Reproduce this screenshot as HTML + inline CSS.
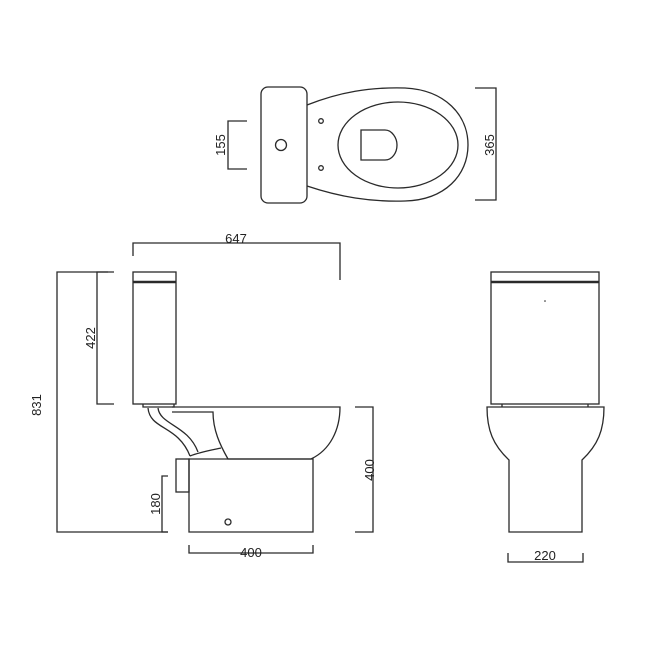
<!DOCTYPE html>
<html><head><style>body{margin:0;background:#fff}svg{display:block}text{font-family:"Liberation Sans",sans-serif;font-size:13px;fill:#222}</style></head>
<body>
<svg width="650" height="650" viewBox="0 0 650 650" xmlns="http://www.w3.org/2000/svg">
<g fill="none" stroke="#2a2a2a" stroke-width="1.3">
<!-- top view -->
<rect x="261" y="87" width="46" height="116" rx="7"/>
<path d="M307,105 C340,92 370,87 405,88 C445,90 468,115 468,145 C468,175 445,200 405,201 C370,202 340,197 307,186"/>
<ellipse cx="398" cy="145" rx="60" ry="43"/>
<path d="M361,130 L385,130 C392,130 397,138 397,145 C397,153 392,160 385,160 L361,160 Z"/>
<circle cx="281" cy="145" r="5.5"/>
<circle cx="321" cy="121" r="2.3"/>
<circle cx="321" cy="168" r="2.3"/>
<path d="M247,121 H228 V169 H247"/>
<path d="M475,88 H496 V200 H475"/>
<!-- side view -->
<rect x="133" y="272" width="43" height="132"/>
<line x1="133" y1="282" x2="176" y2="282" stroke-width="2.5"/>
<path d="M143,404 V407 H174 V404"/>
<path d="M172,407 H340 C340,430 330,450 311,459 H228 C220,445 213,430 213,412 H172"/>
<path d="M148,408 C150,430 178,425 190,456 M158,408 C160,425 188,425 198,452 M190,456 C200,452 212,450 221,448"/>
<path d="M189,459 H313 V532 H189 Z"/>
<rect x="176" y="459" width="13" height="33"/>
<circle cx="228" cy="522" r="3"/>
<path d="M168,476 H162 V532 H168"/>
<path d="M355,407 H373 V532 H355"/>
<path d="M189,545 V553 H313 V545"/>
<path d="M133,256 V243 H340 V280"/>
<path d="M108,272 H57 V532 H168"/>
<path d="M114,272 H97 V404 H114"/>
<!-- front view -->
<rect x="491" y="272" width="108" height="132"/>
<line x1="491" y1="282" x2="599" y2="282" stroke-width="2.5"/>
<path d="M502,404 V407 M588,404 V407"/>
<path d="M487,407 H604 C604,430 598,445 582,460 V532 H509 V460 C493,445 487,430 487,407 Z"/>
<path d="M508,553 V562 H583 V553"/>
</g>
<circle cx="545" cy="301" r="0.8" fill="#222"/>
<text x="236" y="243" text-anchor="middle">647</text>
<text x="251" y="557" text-anchor="middle">400</text>
<text x="545" y="560" text-anchor="middle">220</text>
<text transform="translate(41,405) rotate(-90)" text-anchor="middle">831</text>
<text transform="translate(95,338) rotate(-90)" text-anchor="middle">422</text>
<text transform="translate(160,504) rotate(-90)" text-anchor="middle">180</text>
<text transform="translate(374,470) rotate(-90)" text-anchor="middle">400</text>
<text transform="translate(225,145) rotate(-90)" text-anchor="middle">155</text>
<text transform="translate(494,145) rotate(-90)" text-anchor="middle">365</text>
</svg>
</body></html>
